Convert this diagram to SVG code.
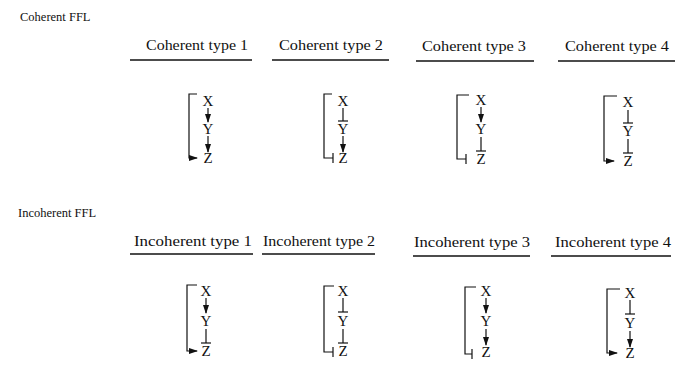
<svg xmlns="http://www.w3.org/2000/svg" width="690" height="373" viewBox="0 0 690 373">
<defs>
<style>
text{font-family:"Liberation Serif","Times New Roman",serif;fill:#111}
.t{font-size:12.5px}
.h{font-size:14.5px;text-anchor:middle}
.n{font-size:15px;text-anchor:middle}
.u{stroke:#111;stroke-width:1.3}
.e{stroke:#111;stroke-width:1.2;fill:none}
.a{marker-end:url(#arr)}
.b{marker-end:url(#tee)}
</style>
<marker id="arr" markerUnits="userSpaceOnUse" markerWidth="9" markerHeight="6" refX="8" refY="3" orient="auto"><path d="M0,0 L9,3 L0,6 z" fill="#111"/></marker>
<marker id="tee" markerUnits="userSpaceOnUse" markerWidth="3" markerHeight="10" refX="1.5" refY="5" orient="auto"><path d="M1.5,0 L1.5,10" stroke="#111" stroke-width="1.2"/></marker>
</defs>
<rect width="690" height="373" fill="#fff"/>
<text class="t" x="20" y="21">Coherent FFL</text>
<text class="t" x="18" y="217">Incoherent FFL</text>
<g id="headers">
<text class="h" x="197" y="50" textLength="102" lengthAdjust="spacingAndGlyphs">Coherent type 1</text>
<text class="h" x="331" y="50" textLength="104" lengthAdjust="spacingAndGlyphs">Coherent type 2</text>
<text class="h" x="474" y="51" textLength="104" lengthAdjust="spacingAndGlyphs">Coherent type 3</text>
<text class="h" x="617" y="51" textLength="104" lengthAdjust="spacingAndGlyphs">Coherent type 4</text>
<line class="u" x1="130" y1="60" x2="252" y2="60"/>
<line class="u" x1="272" y1="60" x2="389" y2="60"/>
<line class="u" x1="416" y1="61" x2="534" y2="61"/>
<line class="u" x1="558" y1="61" x2="675" y2="61"/>
<text class="h" x="193" y="246" textLength="118" lengthAdjust="spacingAndGlyphs">Incoherent type 1</text>
<text class="h" x="319" y="246" textLength="112" lengthAdjust="spacingAndGlyphs">Incoherent type 2</text>
<text class="h" x="472" y="247" textLength="116" lengthAdjust="spacingAndGlyphs">Incoherent type 3</text>
<text class="h" x="613" y="247" textLength="116" lengthAdjust="spacingAndGlyphs">Incoherent type 4</text>
<line class="u" x1="130" y1="254" x2="253" y2="254"/>
<line class="u" x1="262" y1="254" x2="375" y2="254"/>
<line class="u" x1="413" y1="256" x2="530" y2="256"/>
<line class="u" x1="551" y1="256" x2="671" y2="256"/>
</g>
<g id="c1">
<text class="n" x="208" y="106">X</text><text class="n" x="208" y="134">Y</text><text class="n" x="208" y="163">Z</text>
</g>
<g id="c2">
<text class="n" x="343" y="106">X</text><text class="n" x="343" y="134">Y</text><text class="n" x="343" y="163">Z</text>
</g>
<g id="c3">
<text class="n" x="481" y="105">X</text><text class="n" x="481" y="134">Y</text><text class="n" x="481" y="164">Z</text>
</g>
<g id="c4">
<text class="n" x="628" y="107">X</text><text class="n" x="628" y="136">Y</text><text class="n" x="628" y="166">Z</text>
</g>
<g id="i1">
<text class="n" x="206" y="296">X</text><text class="n" x="206" y="326">Y</text><text class="n" x="206" y="356">Z</text>
</g>
<g id="i2">
<text class="n" x="343" y="296">X</text><text class="n" x="343" y="326">Y</text><text class="n" x="343" y="356">Z</text>
</g>
<g id="i3">
<text class="n" x="486" y="296">X</text><text class="n" x="486" y="326">Y</text><text class="n" x="486" y="357">Z</text>
</g>
<g id="i4">
<text class="n" x="630" y="298">X</text><text class="n" x="630" y="328">Y</text><text class="n" x="630" y="358">Z</text>
</g>
<g id="connectors">
<line class="e a" x1="208" y1="108" x2="208" y2="122"/><line class="e a" x1="208" y1="136" x2="208" y2="152"/>
<path class="e a" d="M197,94 H189 V158 H197"/>
<line class="e b" x1="343" y1="108" x2="343" y2="121"/><line class="e a" x1="343" y1="136" x2="343" y2="152"/>
<path class="e b" d="M332,94 H324 V158 H333"/>
<line class="e a" x1="481" y1="107" x2="481" y2="122"/><line class="e b" x1="481" y1="137" x2="481" y2="151"/>
<path class="e b" d="M469,95 H457 V159 H466"/>
<line class="e b" x1="628" y1="110" x2="628" y2="123"/><line class="e b" x1="628" y1="139" x2="628" y2="153"/>
<path class="e a" d="M617,96 H604 V161 H614"/>
<line class="e a" x1="206" y1="298" x2="206" y2="313"/><line class="e b" x1="206" y1="329" x2="206" y2="343"/>
<path class="e a" d="M197,285 H187 V351 H197"/>
<line class="e b" x1="343" y1="298" x2="343" y2="312"/><line class="e b" x1="343" y1="329" x2="343" y2="343"/>
<path class="e b" d="M334,286 H324 V352 H333"/>
<line class="e a" x1="486" y1="298" x2="486" y2="313"/><line class="e a" x1="486" y1="329" x2="486" y2="345"/>
<path class="e b" d="M476,287 H465 V354 H472"/>
<line class="e b" x1="630" y1="300" x2="630" y2="314"/><line class="e a" x1="630" y1="331" x2="630" y2="347"/>
<path class="e a" d="M620,289 H607 V353 H617"/>
</g>
</svg>
